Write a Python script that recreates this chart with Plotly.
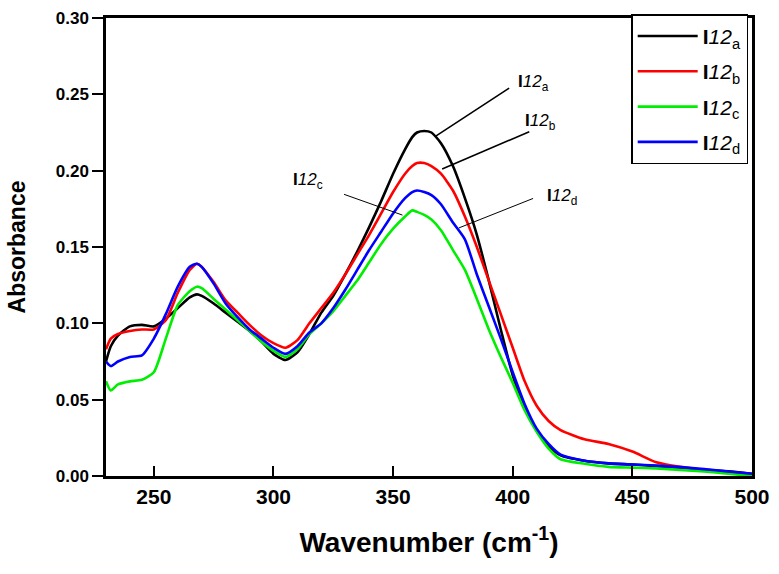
import plotly.graph_objects as go

# Wavenumber grid (cm-1)
wavenumber = [230, 232, 235, 240, 245, 250, 255, 260, 265, 268, 270, 275, 280, 285, 290, 295,
              300, 305, 310, 315, 320, 325, 330, 335, 340, 345, 350, 355, 358, 360, 363, 366,
              370, 375, 380, 385, 390, 395, 400, 405, 410, 415, 420, 430, 440, 450, 460, 470,
              480, 490, 500]

abs_a = [0.075, 0.085, 0.092, 0.098, 0.099, 0.098, 0.103, 0.110, 0.117, 0.119, 0.118, 0.113,
         0.107, 0.101, 0.095, 0.088, 0.080, 0.076, 0.081, 0.093, 0.107, 0.118, 0.132, 0.147,
         0.163, 0.180, 0.198, 0.214, 0.222, 0.225, 0.226, 0.225, 0.218, 0.203, 0.182, 0.158,
         0.128, 0.096, 0.066, 0.045, 0.030, 0.020, 0.0135, 0.010, 0.0083, 0.0075, 0.0065,
         0.0055, 0.004, 0.003, 0.0015]

abs_b = [0.083, 0.090, 0.093, 0.095, 0.096, 0.096, 0.102, 0.120, 0.135, 0.139, 0.137, 0.127,
         0.115, 0.107, 0.099, 0.092, 0.087, 0.084, 0.089, 0.100, 0.110, 0.120, 0.132, 0.145,
         0.158, 0.172, 0.186, 0.198, 0.203, 0.205, 0.205, 0.203, 0.198, 0.187, 0.170, 0.150,
         0.128, 0.106, 0.084, 0.062, 0.046, 0.036, 0.030, 0.024, 0.021, 0.016, 0.009, 0.006,
         0.004, 0.002, 0.001]

abs_c = [0.062, 0.056, 0.060, 0.062, 0.063, 0.068, 0.090, 0.112, 0.121, 0.124, 0.123, 0.116,
         0.109, 0.102, 0.095, 0.088, 0.082, 0.078, 0.083, 0.093, 0.100, 0.108, 0.118, 0.128,
         0.140, 0.152, 0.162, 0.170, 0.174, 0.173, 0.171, 0.168, 0.161, 0.148, 0.135, 0.116,
         0.096, 0.078, 0.061, 0.043, 0.029, 0.018, 0.011, 0.008, 0.006, 0.0055, 0.005, 0.004,
         0.003, 0.0015, 0.0]

abs_d = [0.075, 0.072, 0.075, 0.078, 0.079, 0.090, 0.106, 0.124, 0.137, 0.139, 0.137, 0.126,
         0.113, 0.104, 0.096, 0.090, 0.084, 0.080, 0.085, 0.094, 0.100, 0.110, 0.122, 0.135,
         0.148, 0.160, 0.172, 0.182, 0.186, 0.187, 0.186, 0.184, 0.178, 0.166, 0.155, 0.132,
         0.111, 0.090, 0.068, 0.047, 0.031, 0.021, 0.014, 0.010, 0.0083, 0.0075, 0.0068,
         0.0058, 0.0045, 0.003, 0.0015]

series_names = ["<b>I</b><i>12</i><sub>a</sub>", "<b>I</b><i>12</i><sub>b</sub>",
                "<b>I</b><i>12</i><sub>c</sub>", "<b>I</b><i>12</i><sub>d</sub>"]
series_values = [abs_a, abs_b, abs_c, abs_d]
series_colors = ["#000000", "#ff0000", "#00ee00", "#0000ff"]

x_ticks = [250, 300, 350, 400, 450, 500]
y_ticks = [0.00, 0.05, 0.10, 0.15, 0.20, 0.25, 0.30]

# callout labels: (text, label x, label y, line start x, line start y, line end x, line end y, width)
callouts = [
    ("<b>I</b><i>12</i><sub>a</sub>", 408.5, 0.2575, 398.5, 0.2541, 367.5, 0.2223, 1.6),
    ("<b>I</b><i>12</i><sub>b</sub>", 411.5, 0.2322, 406.9, 0.2255, 370.5, 0.2011, 1.6),
    ("<b>I</b><i>12</i><sub>c</sub>", 314.5, 0.1930, 329.5, 0.1845, 353.9, 0.1709, 1.0),
    ("<b>I</b><i>12</i><sub>d</sub>", 420.5, 0.1830, 408.5, 0.1818, 377.5, 0.1625, 1.0),
]

FONT = "Liberation Sans, Arial, sans-serif"

fig = go.Figure()
for name, vals, col in zip(series_names, series_values, series_colors):
    fig.add_trace(go.Scatter(x=wavenumber, y=vals, mode="lines", name=name,
                             legendgroup=name,
                             line=dict(color=col, width=2.6, shape="spline", smoothing=0.6)))

for text, tx, ty, x0, y0, x1, y1, w in callouts:
    fig.add_shape(type="line", xref="x", yref="y", x0=x0, y0=y0, x1=x1, y1=y1,
                  line=dict(color="black", width=w))
    fig.add_annotation(x=tx, y=ty, xref="x", yref="y", text=text, showarrow=False,
                       font=dict(family=FONT, size=17, color="black"))

fig.update_layout(
    width=779, height=574,
    margin=dict(l=106, r=21, t=9, b=98),
    paper_bgcolor="white", plot_bgcolor="white",
    font=dict(family=FONT, color="black"),
    showlegend=True,
    legend=dict(x=0.813, y=1.008, xanchor="left", yanchor="top",
                bgcolor="white", bordercolor="black", borderwidth=1.5,
                font=dict(family=FONT, size=21, color="black"),
                tracegroupgap=5, itemwidth=60),
    xaxis=dict(range=[230, 500], tickvals=x_ticks, ticktext=[str(v) for v in x_ticks],
               ticks="inside", ticklen=10, tickwidth=2, tickcolor="black",
               showline=True, linewidth=2.5, linecolor="black", mirror=True,
               showgrid=False, zeroline=False,
               tickfont=dict(family=FONT, size=21, weight="bold"),
               title=dict(text="Wavenumber (cm<sup>-1</sup>)", standoff=26,
                          font=dict(family=FONT, size=28, weight="bold"))),
    yaxis=dict(range=[0, 0.30], tickvals=y_ticks, tickformat=".2f",
               ticks="outside", ticklen=11, tickwidth=2, tickcolor="black",
               showline=True, linewidth=2.5, linecolor="black", mirror=True,
               showgrid=False, zeroline=False,
               tickfont=dict(family=FONT, size=17, weight="bold"),
               title=dict(text="Absorbance", standoff=24,
                          font=dict(family=FONT, size=23, weight="bold"))),
)

fig.write_html("out.html", config={"displayModeBar": False},
               post_script="document.body.style.margin='0';document.body.style.padding='0';")
